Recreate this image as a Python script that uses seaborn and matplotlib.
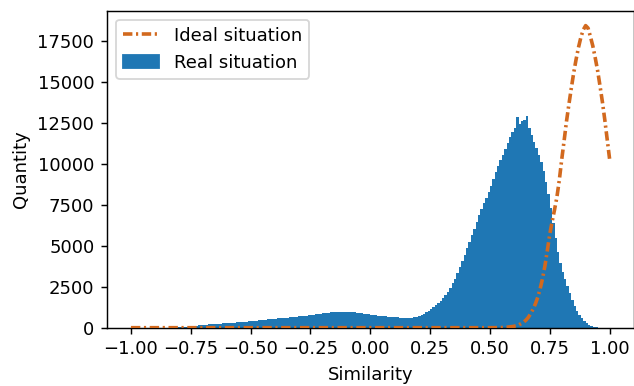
import numpy as np
import pandas as pd
import seaborn as sns
import matplotlib.pyplot as plt
from matplotlib.lines import Line2D
from matplotlib.patches import Patch

# histogram of real similarity values, bins of width 0.01 from -1 to 1
bin_lefts = np.round(np.arange(-1, 1, 0.01), 2)
real_counts = [
    0, 0, 0, 0, 0, 0, 0, 0, 0, 0,
    0, 1, 2, 3, 5, 7, 10, 14, 20, 26,
    33, 43, 57, 70, 84, 101, 118, 134, 149, 163,
    175, 187, 198, 209, 218, 229, 237, 247, 258, 270,
    280, 294, 305, 314, 328, 340, 352, 363, 377, 391,
    407, 422, 438, 451, 464, 479, 494, 507, 521, 536,
    551, 564, 577, 592, 606, 618, 630, 645, 659, 672,
    688, 705, 721, 737, 757, 778, 798, 819, 839, 865,
    886, 922, 901, 942, 973, 927, 953, 963, 984, 958,
    973, 953, 942, 927, 912, 891, 870, 850, 829, 809,
    788, 773, 757, 742, 726, 711, 695, 680, 667, 654,
    639, 623, 608, 595, 582, 577, 587, 608, 639, 680,
    731, 793, 865, 948, 1040, 1143, 1257, 1380, 1514, 1658,
    1813, 1998, 2204, 2431, 2699, 2987, 3327, 3687, 4069, 4460,
    4862, 5253, 5644, 6036, 6438, 6850, 7210, 7581, 7931, 8292,
    8652, 9064, 9476, 9837, 10197, 10558, 10918, 11279, 11639, 11948,
    12150, 12850, 12400, 12600, 12650, 12900, 12200, 11750, 11350, 10950,
    10550, 10100, 9530, 8860, 8140, 7310, 6390, 5460, 4640, 3970,
    3400, 2940, 2520, 2110, 1700, 1340, 1030, 770, 570, 400,
    270, 170, 105, 57, 29, 12, 5, 2, 0, 0,
]

# ideal curve
ideal_x = [-1.0, 0.50, 0.54, 0.57, 0.60, 0.62, 0.64, 0.65, 0.66, 0.67, 0.68, 0.69,
           0.70, 0.71, 0.72, 0.73, 0.74, 0.75, 0.76, 0.77, 0.78, 0.79, 0.80,
           0.81, 0.82, 0.83, 0.84, 0.85, 0.86, 0.87, 0.88, 0.89, 0.90, 0.91,
           0.92, 0.93, 0.94, 0.95, 0.96, 0.97, 0.98, 0.99, 1.00]
ideal_y = [0, 0, 5, 26, 83, 166, 330, 455, 620, 850, 1120, 1450,
           1860, 2380, 3000, 3780, 4710, 5690, 6470, 7190, 7970, 9000, 10250,
           11390, 12580, 13610, 14590, 15530, 16350, 17080, 17700, 18160, 18420, 18270,
           17750, 17180, 16460, 15680, 14750, 13770, 12680, 11490, 10300]

df = pd.DataFrame({"sim": bin_lefts + 0.005, "count": real_counts})
dashdot = (0, (2.6, 1.0, 0.6, 1.0))

fig = plt.figure(figsize=(634 / 130, 386 / 130), dpi=130)
ax = fig.add_axes([107 / 634, 1 - 327.7 / 386, (633.5 - 107) / 634, (327.7 - 10.5) / 386])

sns.histplot(data=df, x="sim", weights="count", binwidth=0.01, binrange=(-1, 1),
             color="#1f77b4", alpha=1, linewidth=0, ax=ax)
sns.lineplot(x=ideal_x, y=ideal_y, color="chocolate", linestyle=dashdot, lw=2,
             ax=ax, zorder=3)

ax.set_xlim(-1.1, 1.1)
ax.set_xlabel("Similarity")
ax.set_ylabel("Quantity")

handles = [Line2D([], [], color="chocolate", linestyle=dashdot, lw=2),
           Patch(color="#1f77b4")]
ax.legend(handles, ["Ideal situation", "Real situation"], loc="upper left")

plt.savefig("out.png", dpi=130)
